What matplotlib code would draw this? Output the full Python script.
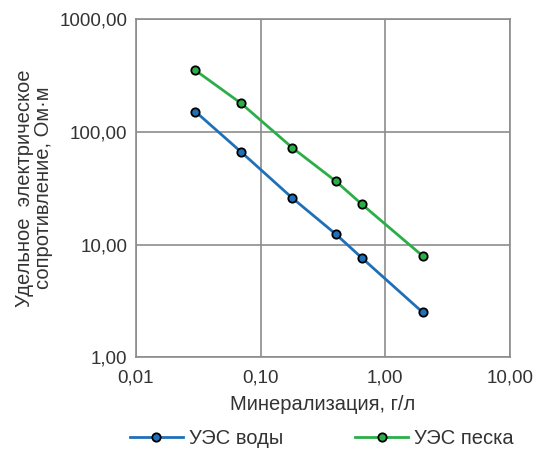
import matplotlib
matplotlib.use("Agg")
import matplotlib.pyplot as plt
from matplotlib.ticker import FixedLocator, FuncFormatter, NullLocator

plt.rcParams['font.family'] = ['Liberation Sans', 'DejaVu Sans']

mineralization = [0.03, 0.07, 0.18, 0.40, 0.65, 2.0]
water_res = [151, 66, 25.8, 12.4, 7.6, 2.5]
sand_res = [350, 178, 72, 36.5, 22.7, 7.9]
x_ticks = [0.01, 0.1, 1, 10]
y_ticks = [1, 10, 100, 1000]
series_names = ['УЭС воды', 'УЭС песка']

fs = 13.5
fl = 14.5
fig = plt.figure(figsize=(5.52, 4.49), dpi=100)
ax = fig.add_axes([0.246, 0.204, 0.678, 0.754])

blue = '#1F70B8'
green = '#2BAE48'
ax.plot(mineralization, water_res, color=blue, lw=2.0, marker='o', ms=6,
        mfc=blue, mec='black', mew=1.3, label=series_names[0], zorder=3)
ax.plot(mineralization, sand_res, color=green, lw=2.0, marker='o', ms=6,
        mfc=green, mec='black', mew=1.3, label=series_names[1], zorder=3)

ax.set_xscale('log')
ax.set_yscale('log')
ax.set_xlim(0.01, 10)
ax.set_ylim(1, 1000)
ax.xaxis.set_major_locator(FixedLocator(x_ticks))
ax.yaxis.set_major_locator(FixedLocator(y_ticks))
ax.xaxis.set_minor_locator(NullLocator())
ax.yaxis.set_minor_locator(NullLocator())
fmt = FuncFormatter(lambda v, p: f"{v:.2f}".replace('.', ','))
ax.xaxis.set_major_formatter(fmt)
ax.yaxis.set_major_formatter(fmt)
ax.tick_params(length=0, labelsize=fs, colors='#333333', pad=6)
ax.tick_params(axis='x', pad=9)

gc = '#8C8C8C'
ax.grid(True, color=gc, lw=1.2)
for s in ax.spines.values():
    s.set_color(gc)
    s.set_linewidth(1.2)

ax.set_xlabel('Минерализация, г/л', fontsize=fl, color='#333333', labelpad=6)
ax.set_ylabel('Удельное  электрическое\nсопротивление, Ом·м', fontsize=fl,
              color='#333333', labelpad=5, linespacing=0.98)

fig.legend(loc='center', bbox_to_anchor=(0.583, 0.024), ncol=2, frameon=False,
           fontsize=fl, handlelength=2.6, columnspacing=3.6, handletextpad=0.3,
           labelcolor='#333333', borderaxespad=0, borderpad=0)

fig.savefig('out.png', dpi=100)
